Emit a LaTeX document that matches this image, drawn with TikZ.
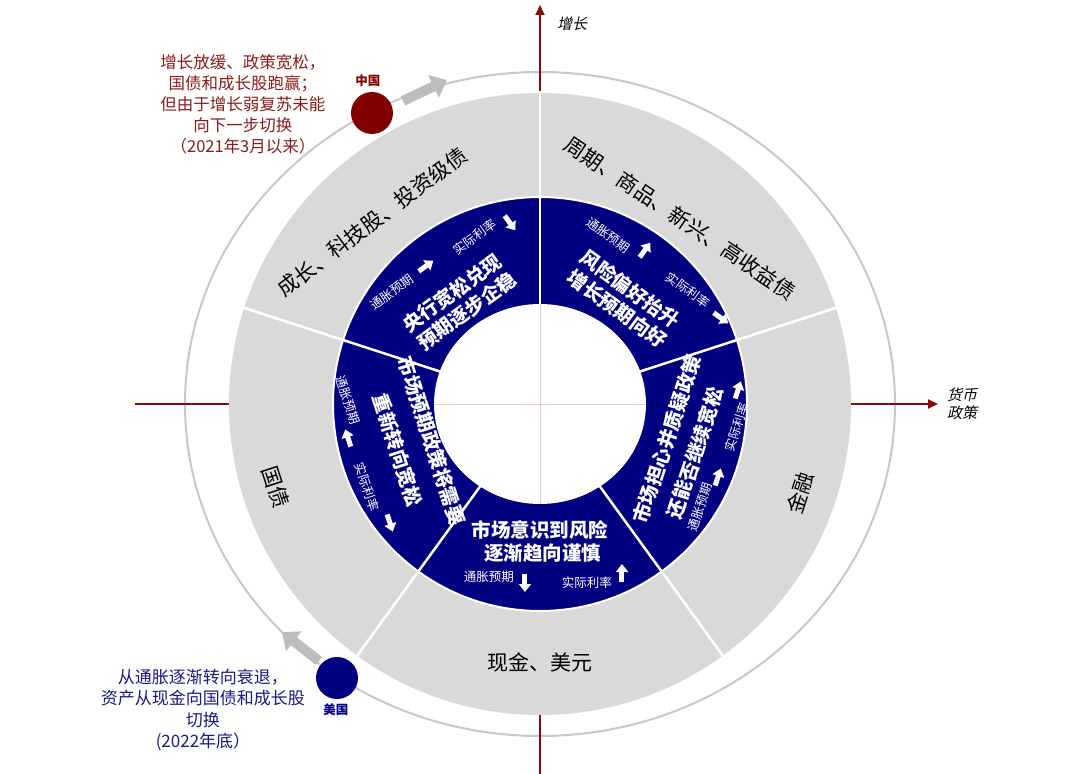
\documentclass[tikz,border=0pt]{standalone}
\usepackage{fontspec}
\setmainfont{Noto Sans CJK SC}
\newfontfamily\slantcjk{Noto Sans CJK SC}[FakeSlant=0.22]
\usetikzlibrary{arrows.meta,calc}
\definecolor{navyblue}{HTML}{000080}
\definecolor{ringgray}{HTML}{D9D9D9}
\definecolor{orbitgray}{HTML}{C8C8C8}
\definecolor{axisred}{HTML}{8B0A0A}
\definecolor{cnred}{HTML}{800000}
\definecolor{cntext}{HTML}{8B1A1A}
\definecolor{ustext}{HTML}{1A1A80}
\definecolor{faintline}{HTML}{E8CCCC}
\definecolor{arrowgray}{HTML}{BDBDBD}
\newcommand{\warr}[4]{%
  \coordinate (#1s) at ($(#2,#3)+(#4+180:9)$);
  \coordinate (#1e) at ($(#2,#3)+(#4:9)$);
  \draw[barrow] (#1s) -- (#1e);
}
\begin{document}
\begin{tikzpicture}[x=1pt,y=1pt,
  ringtxt/.style={font=\fontsize{21}{25}\selectfont, text=black, inner sep=0pt},
  maintxt/.style={font=\bfseries\fontsize{19.5}{23}\selectfont, text=white, inner sep=0pt},
  smalltxt/.style={font=\fontsize{12.5}{14}\selectfont, text=white, inner sep=0pt},
  barrow/.style={draw=white, line width=5pt, -{Triangle[length=8pt,width=12pt]}},
  axisln/.style={draw=axisred, line width=2pt, -{Triangle[length=10pt,width=9pt]}},
  garrow/.style={draw=arrowgray, line width=10pt, -{Triangle[length=15pt,width=24pt]}},
  dotnode/.style={circle, minimum size=42pt, inner sep=0pt},
  annot/.style={align=center, inner sep=0pt}
]
\useasboundingbox (-540,-370) rectangle (540,404);

% orbit
\draw[orbitgray, line width=2pt] (0,0) ellipse [x radius=355, y radius=332];

% axes
\coordinate (vbot) at (0,-372);
\coordinate (vtop) at (0,399);
\coordinate (hleft) at (-405,0);
\coordinate (hright) at (398,0);
\draw[axisln] (vbot) -- (vtop);
\draw[axisln] (hleft) -- (hright);

% rings
\fill[ringgray] (0,0) circle (311);
\fill[navyblue] (0,0) circle (207);
\draw[white, line width=2pt] (0,0) circle (207);
\fill[white] (0,0) ellipse [x radius=106, y radius=100];
\foreach \a in {18,90,162,234,306} \draw[white, line width=2.5pt] (\a:98) -- (\a:313);
\draw[faintline, line width=0.8pt] (-106,0) -- (106,0);
\draw[faintline, line width=0.8pt] (0,-100) -- (0,100);

% gray ring labels
\node[ringtxt, rotate=37] (g1) at (-168,182) {成长、科技股、投资级债};
\node[ringtxt, rotate=-34] (g2) at (140,186) {周期、商品、新兴、高收益债};
\node[ringtxt, rotate=-72] (g3) at (-264,-83) {国债};
\node[ringtxt, rotate=72] (g4) at (260,-89) {金融};
\node[ringtxt] (g5) at (0,-258) {现金、美元};

% sector A
\node[maintxt, rotate=36] (a1) at (-88,111) {央行宽松兑现};
\node[maintxt, rotate=36] (a2) at (-73,93) {预期逐步企稳};
\node[smalltxt, rotate=36] (a3) at (-148,112) {通胀预期};
\warr{aa1}{-114}{138}{36}
\node[smalltxt, rotate=36] (a4) at (-65,167) {实际利率};
\warr{aa2}{-30}{181}{-54}

% sector B
\node[maintxt, rotate=-36] (b1) at (90,115) {风险偏好抬升};
\node[maintxt, rotate=-36] (b2) at (77,95) {增长预期向好};
\node[smalltxt, rotate=-36] (b3) at (68,169) {通胀预期};
\warr{ba1}{105}{154}{54}
\node[smalltxt, rotate=-36] (b4) at (148,114) {实际利率};
\warr{ba2}{181}{86}{-36}

% sector C
\node[maintxt, rotate=-72] (c1) at (-108,-37) {市场预期政策将需要};
\node[maintxt, rotate=-72] (c2) at (-142,-46) {重新转向宽松};
\node[smalltxt, rotate=-72] (c3) at (-192,4) {通胀预期};
\warr{ca1}{-192}{-34}{108}
\node[smalltxt, rotate=-72] (c4) at (-173,-83) {实际利率};
\warr{ca2}{-150}{-119}{-72}

% sector D
\node[maintxt] (d1) at (0,-126) {市场意识到风险};
\node[maintxt] (d2) at (3,-149) {逐渐趋向谨慎};
\node[smalltxt] (d3) at (-51,-173) {通胀预期};
\warr{da1}{-15}{-179}{-90}
\node[smalltxt] (d4) at (47,-179) {实际利率};
\warr{da2}{82}{-169}{90}

% sector E
\node[maintxt, rotate=72] (e1) at (127,-35) {市场担心并质疑政策};
\node[maintxt, rotate=72] (e2) at (155,-49) {还能否继续宽松};
\node[smalltxt, rotate=72] (e3) at (197,-23) {实际利率};
\warr{ea1}{198}{14}{72}
\node[smalltxt, rotate=72] (e4) at (160,-103) {通胀预期};
\warr{ea2}{178}{-73}{72}

% axis labels
\node[font=\slantcjk\fontsize{15}{18}\selectfont, anchor=west, inner sep=0pt] (ylbl) at (17,380) {增长};
\node[font=\slantcjk\fontsize{15}{18}\selectfont, anchor=west, align=left, inner sep=0pt] (xlbl) at (407,0) {货币\\政策};

% China
\coordinate (cnas) at (-137,303);
\coordinate (cnae) at (-93,324);
\draw[garrow] (cnas) -- (cnae);
\node[dotnode, fill=cnred] (cndot) at (-168,291) {};
\node[font=\bfseries\fontsize{12.5}{14}\selectfont, text=cnred, inner sep=0pt] (cnlbl) at (-172,323) {中国};
\node[annot, text=cntext, font=\fontsize{16.5}{21}\selectfont] (cntxt) at (-297,300) {增长放缓、政策宽松，\\国债和成长股跑赢；\\但由于增长弱复苏未能\\向下一步切换\\（2021年3月以来）};

% US
\coordinate (usas) at (-221,-257);
\coordinate (usae) at (-258,-228);
\draw[garrow] (usas) -- (usae);
\node[dotnode, fill=navyblue] (usdot) at (-203,-274) {};
\node[font=\bfseries\fontsize{12.5}{14}\selectfont, text=navyblue, inner sep=0pt] (uslbl) at (-204,-306) {美国};
\node[annot, text=ustext, font=\fontsize{17}{21.5}\selectfont] (ustxt) at (-337,-306) {从通胀逐渐转向衰退，\\资产从现金向国债和成长股\\切换\\(2022年底）};
\end{tikzpicture}
\end{document}
